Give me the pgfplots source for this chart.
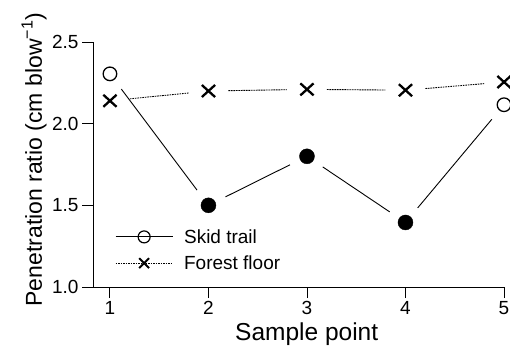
\documentclass[border=0pt]{standalone}
\usepackage{fontspec}
\setmainfont{Liberation Sans}
\usepackage{pgfplots}
\pgfplotsset{compat=1.18}
\pgfplotstableread{
x y
1 2.305
2 1.50
3 1.80
4 1.395
5 2.116
}\skid
\pgfplotstableread{
x y
1 2.14
2 2.20
3 2.21
4 2.205
5 2.255
}\forest
\tikzset{
  skidline/.style={black, line width=0.9pt, shorten <=19pt, shorten >=19pt},
  forline/.style={black, line width=0.9pt, dash pattern=on 1.6pt off 0.9pt, shorten <=20pt, shorten >=20pt},
}
\begin{document}
\begin{tikzpicture}[x=1pt,y=1pt]
\useasboundingbox (-93,-59) rectangle (417,287);
\begin{axis}[
  at={(0,0)}, anchor=south west,
  scale only axis, width=411pt, height=245pt,
  xmin=0.828, xmax=5, ymin=1, ymax=2.5,
  axis lines=left,
  axis line style={-, line width=0.9pt},
  xtick={1,2,3,4,5}, ytick={1,1.5,2,2.5},
  tick align=outside, major tick length=11pt,
  tick style={black, line width=0.9pt},
  yticklabel style={/pgf/number format/.cd, fixed, fixed zerofill, precision=1},
  /pgf/number format/assume math mode=true,
  ticklabel style={font=\fontsize{19}{21}\selectfont},
  xlabel={Sample point},
  ylabel={Penetration ratio (cm blow\textsuperscript{−1})},
  label style={font=\fontsize{23}{26}\selectfont},
  xlabel style={at={(ticklabel cs:0.52)}, inner sep=1pt, yshift=-3pt, font=\fontsize{24.5}{27}\selectfont},
  ylabel style={at={(ticklabel cs:0.52)}, inner sep=2pt},
  clip=false,
  legend style={at={(22pt,14pt)}, anchor=south west, draw=none, fill=none,
    font=\fontsize{19}{21}\selectfont, row sep=7pt, inner sep=0pt,
    /tikz/every odd column/.append style={column sep=9pt}},
  legend cell align=left,
  legend image code/.code={\draw[mark repeat=2,mark phase=2,#1] plot coordinates {(0pt,0pt) (28.5pt,0pt) (57pt,0pt)};},
]
\addlegendimage{black, line width=0.9pt, mark=o, mark size=6pt, mark options={solid, fill=white, line width=1.2pt}}
\addlegendentry{Skid trail}
\addlegendimage{black, line width=0.9pt, dash pattern=on 1.6pt off 0.9pt, mark=x, mark size=7pt, mark options={solid, line width=2pt}}
\addlegendentry{Forest floor}
% skid trail segments
\addplot[skidline, forget plot] coordinates {(1,2.305) (2,1.50)};
\addplot[skidline, forget plot] coordinates {(2,1.50) (3,1.80)};
\addplot[skidline, forget plot] coordinates {(3,1.80) (4,1.395)};
\addplot[skidline, forget plot] coordinates {(4,1.395) (5,2.116)};
% forest floor segments
\addplot[forline, forget plot] coordinates {(1,2.14) (2,2.20)};
\addplot[forline, forget plot] coordinates {(2,2.20) (3,2.21)};
\addplot[forline, forget plot] coordinates {(3,2.21) (4,2.205)};
\addplot[forline, forget plot] coordinates {(4,2.205) (5,2.255)};
% markers
\addplot[only marks, forget plot, mark=o, mark size=6.8pt, mark options={black, line width=1.3pt}] coordinates {(1,2.305) (5,2.116)};
\addplot[only marks, forget plot, mark=*, mark size=7.5pt, mark options={black, fill=black}] coordinates {(2,1.50) (3,1.80) (4,1.395)};
\addplot[only marks, forget plot, mark=x, mark size=8.5pt, mark options={black, line width=2.3pt, xscale=1.1}] table[x=x,y=y] {\forest};
\end{axis}
\end{tikzpicture}
\end{document}
